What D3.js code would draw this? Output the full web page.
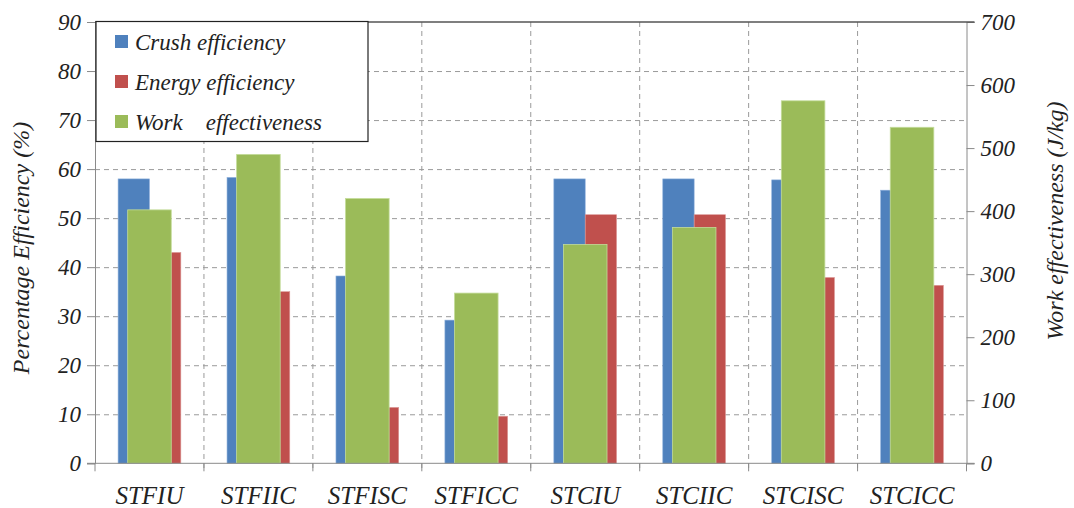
<!DOCTYPE html>
<html><head><meta charset="utf-8">
<script src="https://cdn.jsdelivr.net/npm/d3@7"></script>
</head><body style="margin:0"><svg id="c" width="1074" height="508"></svg>
<script>
const categories=["STFIU","STFIIC","STFISC","STFICC","STCIU","STCIIC","STCISC","STCICC"];
const crushEff=[58,58.3,38.2,29.2,58,58,57.8,55.7];
const energyEff=[43,35,11.4,9.6,50.7,50.7,37.9,36.3];
const workEff=[402,490,420,270,347,374,575,533];
const leftTicks=[0,10,20,30,40,50,60,70,80,90];
const rightTicks=[0,100,200,300,400,500,600,700];
const legendLabels=["Crush efficiency","Energy efficiency","Work    effectiveness"];
const colors=["#4F81BD","#C0504D","#9BBB59"];

const svg=d3.select("#c");
const L=95,R=966.5,T=22,B=463.3;
const x=d3.scaleBand().domain(categories).range([L,R]);
const yL=d3.scaleLinear().domain([0,90]).range([B,T]);
const yR=d3.scaleLinear().domain([0,700]).range([B,T]);
const bw=x.bandwidth()*0.288, gw=x.bandwidth()*0.4;
const cx=d=>x(d)+x.bandwidth()/2;

// gridlines
svg.append("g").selectAll("line").data(leftTicks.slice(1,-1)).join("line")
 .attr("x1",L).attr("x2",R).attr("y1",d=>yL(d)+0.5).attr("y2",d=>yL(d)+0.5)
 .attr("stroke","#9a9a9a").attr("stroke-dasharray","5,4");
svg.append("g").selectAll("line").data(categories.slice(1)).join("line")
 .attr("x1",d=>x(d)).attr("x2",d=>x(d)).attr("y1",T).attr("y2",B+8)
 .attr("stroke","#9a9a9a").attr("stroke-dasharray","5,4");

// bars
svg.append("g").selectAll("rect").data(categories).join("rect")
 .attr("x",(d)=>cx(d)-bw).attr("width",bw).attr("y",(d,i)=>yL(crushEff[i])).attr("height",(d,i)=>B-yL(crushEff[i]))
 .attr("fill",colors[0]).attr("stroke","#8fb0dc").attr("stroke-width",0.6);
svg.append("g").selectAll("rect").data(categories).join("rect")
 .attr("x",(d)=>cx(d)).attr("width",bw).attr("y",(d,i)=>yL(energyEff[i])).attr("height",(d,i)=>B-yL(energyEff[i]))
 .attr("fill",colors[1]).attr("stroke","#dc9a98").attr("stroke-width",0.6);
svg.append("g").selectAll("rect").data(categories).join("rect")
 .attr("x",(d)=>cx(d)-gw/2).attr("width",gw).attr("y",(d,i)=>yR(workEff[i])).attr("height",(d,i)=>B-yR(workEff[i]))
 .attr("fill",colors[2]).attr("stroke","#c4dc9a").attr("stroke-width",0.8);

// axis lines and ticks
const axL=svg.append("g").attr("transform",`translate(${L},0)`).call(d3.axisLeft(yL).tickValues(leftTicks).tickSize(8).tickFormat(""));
const axR=svg.append("g").attr("transform",`translate(${R},0)`).call(d3.axisRight(yR).tickValues(rightTicks).tickSize(8).tickFormat(""));
const axB=svg.append("g").attr("transform",`translate(0,${B})`).call(d3.axisBottom(x).tickSize(0).tickFormat(""));
[axL,axR,axB].forEach(a=>{a.select(".domain").attr("stroke","#8a8a8a");a.selectAll(".tick line").attr("stroke","#8a8a8a");a.selectAll(".tick text").remove();});
axB.select(".domain").attr("d",`M${L-8},0H${R+8}`);
svg.append("g").selectAll("line").data(d3.range(categories.length+1)).join("line")
 .attr("x1",i=>L+i*x.step()).attr("x2",i=>L+i*x.step()).attr("y1",B).attr("y2",B+8).attr("stroke","#8a8a8a");
svg.append("line").attr("x1",L).attr("x2",R+8).attr("y1",T).attr("y2",T).attr("stroke","#555").attr("stroke-width",1.3);

// legend box
const lg=svg.append("g");
lg.append("rect").attr("x",96).attr("y",21.5).attr("width",272).attr("height",120).attr("fill","#fff").attr("stroke","#222").attr("stroke-width",1.2);
lg.selectAll("rect.sw").data(legendLabels).join("rect").attr("class","sw")
 .attr("x",115).attr("y",(d,i)=>35+i*40).attr("width",13).attr("height",13).attr("fill",(d,i)=>colors[i]);

// all texts: plain text elements, attribute fonts
const tx=svg.append("g");
function addText(sel,size){
  return sel.attr("font-family","Times New Roman").attr("font-style","italic").attr("font-size",size).attr("fill","#222");
}
addText(tx.selectAll("text.yl").data(leftTicks).join("text").attr("class","yl")
 .attr("x",L-14).attr("y",d=>yL(d)+8).attr("text-anchor","end").text(d=>d),23);
addText(tx.selectAll("text.yr").data(rightTicks).join("text").attr("class","yr")
 .attr("x",R+14).attr("y",d=>yR(d)+8).attr("text-anchor","start").text(d=>d),23);
addText(tx.selectAll("text.xl").data(categories).join("text").attr("class","xl")
 .attr("x",d=>cx(d)).attr("y",B+41).attr("text-anchor","middle").text(d=>d),25);
addText(tx.selectAll("text.lg").data(legendLabels).join("text").attr("class","lg")
 .attr("x",135).attr("y",(d,i)=>49.5+i*40).attr("xml:space","preserve").text(d=>d),23);
addText(tx.append("text").attr("transform","translate(29,248) rotate(-90)").attr("text-anchor","middle").text("Percentage Efficiency (%)"),24);
addText(tx.append("text").attr("transform","translate(1063,221) rotate(-90)").attr("text-anchor","middle").text("Work effectiveness (J/kg)"),24);
</script></body></html>
